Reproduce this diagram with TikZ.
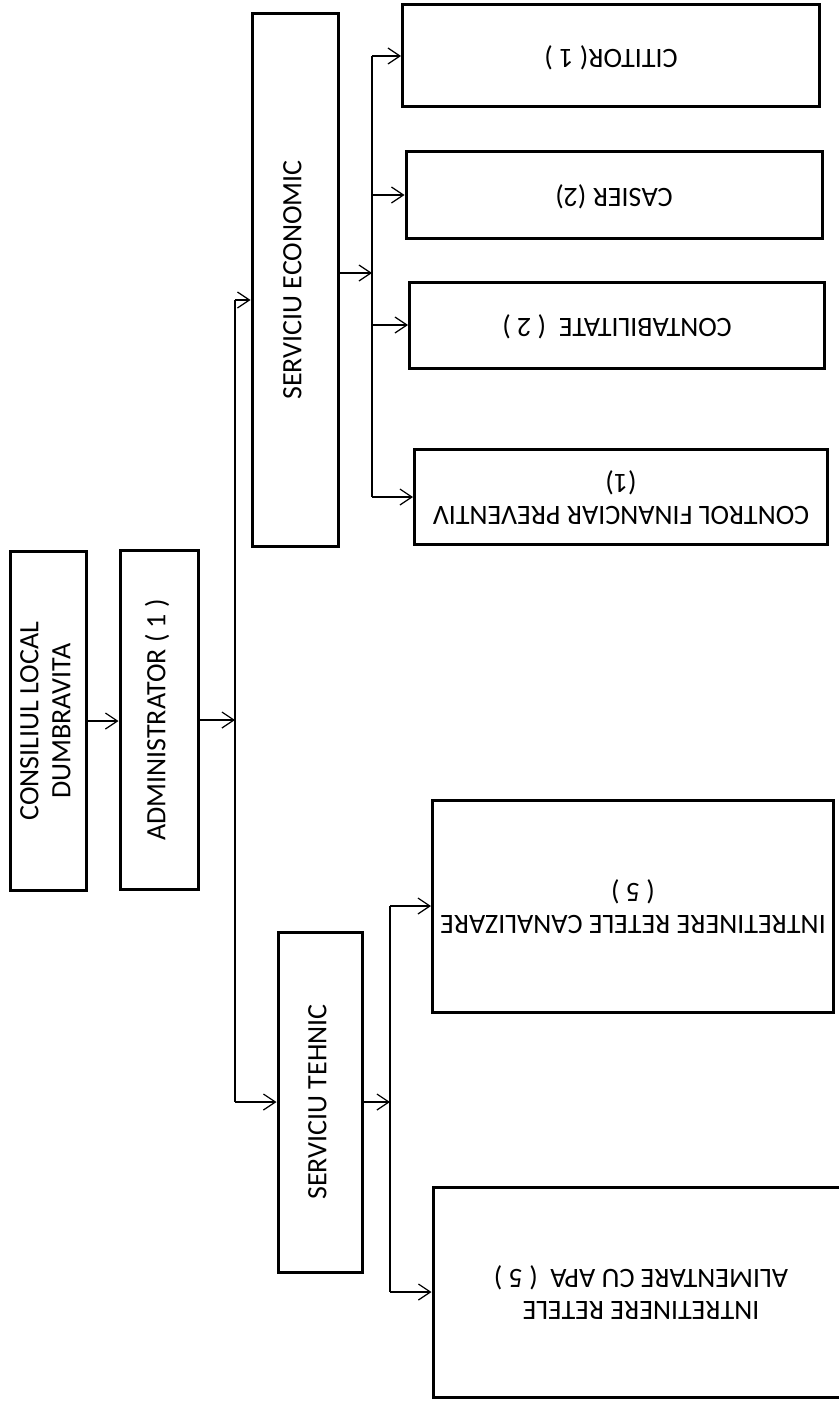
\documentclass[tikz,border=0pt]{standalone}
\usepackage{fontspec}
\setmainfont{Carlito}
\usepackage{graphicx}
\usepackage{tikz}
\usetikzlibrary{arrows.meta}
\tikzstyle{block} = [draw, rectangle, line width=1.5pt, inner sep=0pt, font=\fontsize{14}{16}\selectfont]
\newcommand{\uptext}[1]{\rotatebox{90}{\begin{tabular}{@{}c@{}}#1\end{tabular}}}
\newcommand{\fliptext}[1]{\rotatebox{180}{\begin{tabular}{@{}c@{}}#1\end{tabular}}}

\begin{document}
\begin{tikzpicture}[x=0.5pt, y=-0.5pt, line width=0.6pt, >={Straight Barb[length=6pt,width=8pt]}]
	\useasboundingbox (0,0) rectangle (839,1402);

	\node (CONSILIU) [block, minimum width=38pt, minimum height=169.5pt] at (48,721) {\uptext{CONSILIUL LOCAL\\DUMBRAVITA}};
	\node (ADMIN) [block, minimum width=39pt, minimum height=169.5pt] at (159,720) {\uptext{ADMINISTRATOR ( 1 )}};
	\node (SERV_EC) [block, minimum width=43pt, minimum height=266.5pt] at (295,280) {\uptext{SERVICIU ECONOMIC}};
	\node (SERV_TH) [block, minimum width=42pt, minimum height=170pt] at (320,1102) {\uptext{SERVICIU TEHNIC}};

	\node (CITITOR) [block, minimum width=208.5pt, minimum height=51pt] at (611,56) {\fliptext{CITITOR( 1 )}};
	\node (CASIER) [block, minimum width=208pt, minimum height=43.5pt] at (614,195) {\fliptext{CASIER (2)}};
	\node (CONTAB) [block, minimum width=207.5pt, minimum height=43pt] at (617,325) {\fliptext{CONTABILITATE ~( 2 )}};
	\node (CONTROL) [block, minimum width=206.5pt, minimum height=47.5pt] at (621,497) {\fliptext{CONTROL FINANCIAR PREVENTIV\\(1)}};
	\node (CANAL) [block, minimum width=200.5pt, minimum height=106pt] at (633,906) {\fliptext{INTRETINERE RETELE CANALIZARE\\( 5 )}};
	\node (ALIM) [block, minimum width=208pt, minimum height=105pt] at (641,1292) {\fliptext{INTRETINERE RETELE\\ALIMENTARE CU APA ~( 5 )}};

	\coordinate (BUS_MAIN) at (235,0);
	\coordinate (BUS_EC) at (372,0);
	\coordinate (BUS_TH) at (390,0);
	\coordinate (EC_IN) at ([yshift=-10pt]SERV_EC.west);
	\coordinate (EC_OUT) at ([yshift=3.5pt]SERV_EC.east);

	\draw[->] (CONSILIU.east) -- (CONSILIU.east -| ADMIN.west);
	\draw[->] (ADMIN.east) -- (ADMIN.east -| BUS_MAIN);
	\draw (BUS_MAIN |- EC_IN) -- (BUS_MAIN |- SERV_TH.west);
	\draw[->] (BUS_MAIN |- EC_IN) -- (EC_IN);
	\draw[->] (BUS_MAIN |- SERV_TH.west) -- (SERV_TH.west);

	\draw[->] (EC_OUT) -- (EC_OUT -| BUS_EC);
	\draw (BUS_EC |- CITITOR.west) -- (BUS_EC |- CONTROL.west);
	\draw[->] (BUS_EC |- CITITOR.west) -- (CITITOR.west);
	\draw[->] (BUS_EC |- CASIER.west) -- (CASIER.west);
	\draw[->] (BUS_EC |- CONTAB.west) -- (CONTAB.west);
	\draw[->] (BUS_EC |- CONTROL.west) -- (CONTROL.west);

	\draw[->] (SERV_TH.east) -- (SERV_TH.east -| BUS_TH);
	\draw (BUS_TH |- CANAL.west) -- (BUS_TH |- ALIM.west);
	\draw[->] (BUS_TH |- CANAL.west) -- (CANAL.west);
	\draw[->] (BUS_TH |- ALIM.west) -- (ALIM.west);
\end{tikzpicture}
\end{document}
